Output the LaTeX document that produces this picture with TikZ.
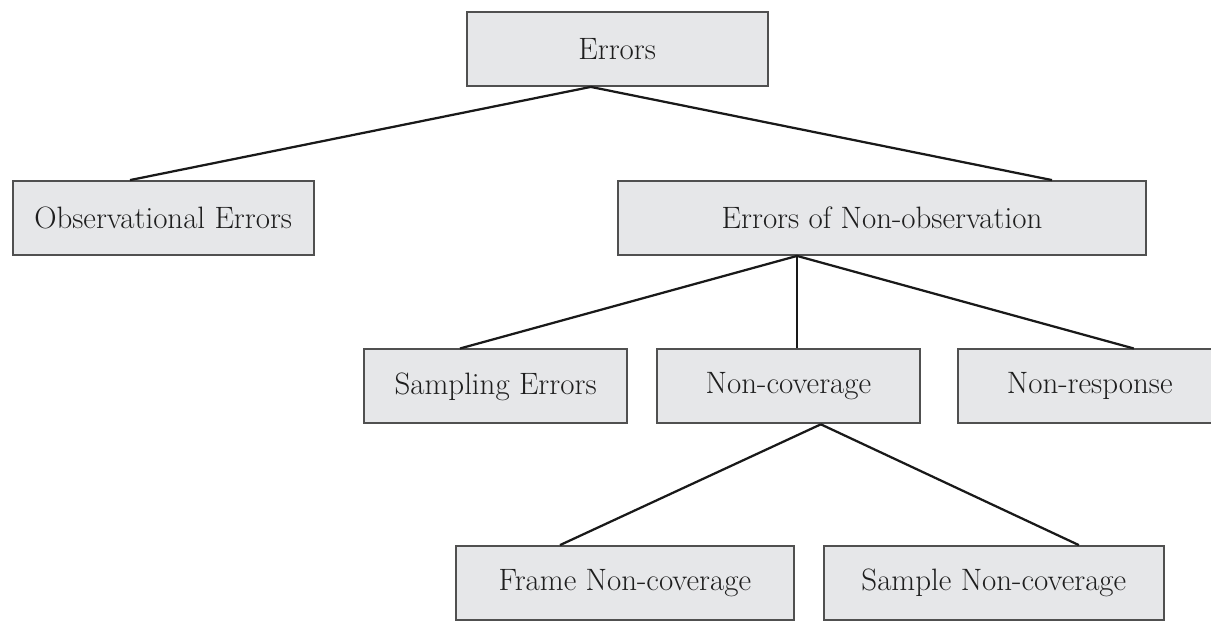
\documentclass[tikz,border=0pt]{standalone}
\usepackage{tikz}
\usetikzlibrary{positioning}
\definecolor{boxfill}{HTML}{E6E7E9}
\definecolor{boxline}{HTML}{505050}
\definecolor{ink}{HTML}{1E1E1E}

\begin{document}
\begin{tikzpicture}[font=\fontsize{22}{26}\selectfont,text=ink,
 b/.style={draw=boxline,fill=boxfill,line width=1.3pt,minimum height=1.85cm,inner sep=0pt},
 l/.style={draw=black!90,line width=1.6pt}]
\useasboundingbox (0,0) rectangle (30.275,-15.525);
\node[b,minimum width=7.53cm] (err) at (15.43,-1.225) {Errors};
\node[b,minimum width=7.53cm] (obs) at (4.08,-5.45) {Observational Errors};
\node[b,minimum width=13.2cm] (nonobs) at (22.05,-5.45) {Errors of Non-observation};
\node[b,minimum width=6.575cm] (samp) at (12.39,-9.66) {Sampling Errors};
\node[b,minimum width=6.575cm,right=0.7cm of samp] (noncov) {Non-coverage};
\node[b,minimum width=6.6cm,right=0.9cm of noncov] (nonresp) {Non-response};
\node[b,minimum width=8.46cm] (frame) at (15.62,-14.575) {Frame Non-coverage};
\node[b,minimum width=8.5cm,right=0.7cm of frame] (sample) {Sample Non-coverage};
\coordinate (errfoot) at ([xshift=-0.66cm]err.south);
\draw[l] (errfoot) -- ([xshift=-0.83cm]obs.north);
\draw[l] (errfoot) -- ([xshift=4.25cm]nonobs.north);
\coordinate (nonobsfoot) at ([xshift=-2.125cm]nonobs.south);
\draw[l] (nonobsfoot) -- ([xshift=-0.89cm]samp.north);
\draw[l] (nonobsfoot) -- (nonobsfoot |- noncov.north);
\draw[l] (nonobsfoot) -- ([xshift=1.1cm]nonresp.north);
\coordinate (noncovfoot) at ([xshift=0.81cm]noncov.south);
\draw[l] (noncovfoot) -- ([xshift=-1.62cm]frame.north);
\draw[l] (noncovfoot) -- ([xshift=2.125cm]sample.north);
\end{tikzpicture}
\end{document}
